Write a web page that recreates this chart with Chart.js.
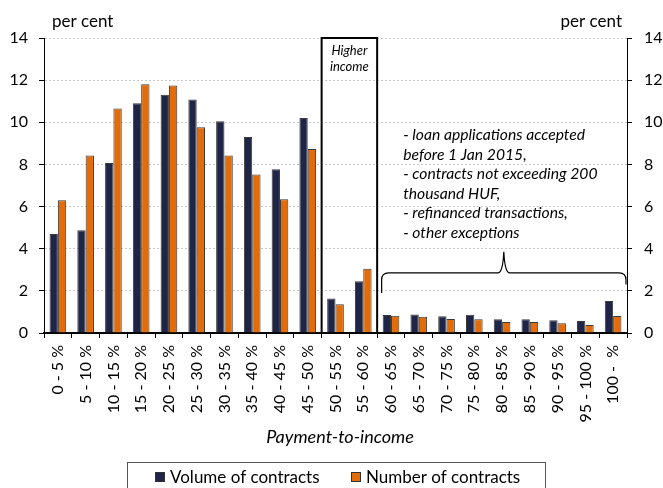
<!DOCTYPE html>
<html>
<head>
<meta charset="utf-8">
<script src="https://cdn.jsdelivr.net/npm/chart.js@4.4.1/dist/chart.umd.min.js"></script>
<style>
  html, body { margin: 0; padding: 0; background: #fff; }
  #wrap { width: 663px; height: 488px; }
</style>
</head>
<body>
<div id="wrap"><canvas id="c" width="663" height="488"></canvas></div>
<script>
const categories = ['0 - 5 %','5 - 10 %','10 - 15 %','15 - 20 %','20 - 25 %','25 - 30 %','30 - 35 %','35 - 40 %','40 - 45 %','45 - 50 %','50 - 55 %','55 - 60 %','60 - 65 %','65 - 70 %','70 - 75 %','75 - 80 %','80 - 85 %','85 - 90 %','90 - 95 %','95 - 100 %','100 -  %'];
const volumeOfContracts = [4.7, 4.88, 8.07, 10.9, 11.31, 11.08, 10.05, 9.3, 7.77, 10.2, 1.64, 2.46, 0.85, 0.88, 0.8, 0.87, 0.65, 0.65, 0.6, 0.57, 1.52];
const numberOfContracts = [6.3, 8.42, 10.65, 11.8, 11.74, 9.76, 8.42, 7.52, 6.35, 8.73, 1.37, 3.05, 0.82, 0.77, 0.66, 0.65, 0.52, 0.52, 0.46, 0.38, 0.81];
const yTicks = [0, 2, 4, 6, 8, 10, 12, 14];
const seriesNames = ['Volume of contracts', 'Number of contracts'];
const unitLabel = 'per cent';
const xTitle = 'Payment-to-income';
const boxLabel = ['Higher', 'income'];
const noteLines = ['- loan applications accepted', 'before 1 Jan 2015,', '- contracts not exceeding 200', 'thousand HUF,', '- refinanced transactions,', '- other exceptions'];

const NAVY = '#1f2547';
const ORANGE = '#e36c0a';
const FONT = 'Lato, "Open Sans", sans-serif';

const overlay = {
  id: 'overlay',
  afterDraw(chart) {
    const ctx = chart.ctx;
    const xs = chart.scales.x, ys = chart.scales.y;
    const ca = chart.chartArea;
    const cw = xs.width / categories.length;
    ctx.save();
    ctx.fillStyle = '#000';
    // unit labels
    ctx.font = '17px ' + FONT;
    ctx.textBaseline = 'middle';
    ctx.textAlign = 'left';
    ctx.fillText(unitLabel, 52, 22);
    ctx.textAlign = 'right';
    ctx.fillText(unitLabel, 622, 22);

    // Higher income box (categories 10-11)
    const bx1 = xs.getPixelForValue(10) - cw / 2;
    const bx2 = xs.getPixelForValue(11) + cw / 2;
    const by1 = ca.top;
    const by2 = ys.getPixelForValue(0);
    ctx.strokeStyle = '#000';
    ctx.lineWidth = 2;
    ctx.strokeRect(bx1, by1, bx2 - bx1, by2 - by1);
    ctx.font = 'italic 13px ' + FONT;
    ctx.textAlign = 'center';
    ctx.fillText(boxLabel[0], (bx1 + bx2) / 2, 51);
    ctx.fillText(boxLabel[1], (bx1 + bx2) / 2, 67);

    // brace over categories 12-20
    const xL = xs.getPixelForValue(12) - cw / 2 + 4.5;
    const xR = ca.right - 1;
    const xM = (xL + xR) / 2;
    const yH = ys.getPixelForValue(2.85);
    const yLeftEnd = ys.getPixelForValue(1.9);
    const yRightEnd = ys.getPixelForValue(2.3);
    const yPeak = ys.getPixelForValue(3.85);
    const r = 7;
    ctx.lineWidth = 1.2;
    ctx.strokeStyle = '#000';
    ctx.beginPath();
    ctx.moveTo(xL, yLeftEnd);
    ctx.lineTo(xL, yH + r);
    ctx.quadraticCurveTo(xL, yH, xL + r, yH);
    ctx.lineTo(xM - 6, yH);
    ctx.quadraticCurveTo(xM - 1, yH, xM, yPeak);
    ctx.quadraticCurveTo(xM + 1, yH, xM + 6, yH);
    ctx.lineTo(xR - r, yH);
    ctx.quadraticCurveTo(xR, yH, xR, yH + r);
    ctx.lineTo(xR, yRightEnd);
    ctx.stroke();

    // note text
    ctx.font = 'italic 15.7px ' + FONT;
    ctx.textAlign = 'left';
    const nx = xs.getPixelForValue(12) - cw / 2 + 26;
    const ny = ys.getPixelForValue(9.4);
    noteLines.forEach((t, i) => ctx.fillText(t, nx, ny + i * 19.6));

    // x title
    ctx.font = 'italic 18px ' + FONT;
    ctx.textAlign = 'center';
    ctx.fillText(xTitle, 340, 437);

    // legend
    ctx.lineWidth = 1;
    ctx.strokeStyle = '#555';
    ctx.strokeRect(127.5, 462.5, 418, 40);
    ctx.font = '17px ' + FONT;
    ctx.textAlign = 'left';
    const items = [{x: 155}, {x: 351}];
    chart.data.datasets.forEach((ds, i) => {
      const lx = items[i].x;
      ctx.fillStyle = ds.backgroundColor;
      ctx.fillRect(lx, 472, 10, 10);
      ctx.strokeStyle = '#333';
      ctx.strokeRect(lx + 0.5, 472.5, 9, 9);
      ctx.fillStyle = '#000';
      ctx.fillText(ds.label, lx + 15, 478);
    });
    ctx.restore();
  }
};

new Chart(document.getElementById('c'), {
  type: 'bar',
  data: {
    labels: categories,
    datasets: [
      { label: seriesNames[0], data: volumeOfContracts, backgroundColor: NAVY, borderColor: '#3a3a3a', borderWidth: 1, yAxisID: 'y' },
      { label: seriesNames[1], data: numberOfContracts, backgroundColor: ORANGE, borderColor: '#3a3a3a', borderWidth: 1, yAxisID: 'y' }
    ]
  },
  options: {
    responsive: false,
    animation: false,
    devicePixelRatio: 1,
    layout: { padding: { top: 38, left: 0, right: 0, bottom: 0 } },
    datasets: { bar: { categoryPercentage: 0.6, barPercentage: 1.0 } },
    plugins: { legend: { display: false }, tooltip: { enabled: false }, title: { display: false } },
    scales: {
      x: {
        type: 'category',
        offset: true,
        afterFit(s) { s.height = 155; },
        grid: { display: true, drawOnChartArea: false, drawTicks: true, tickLength: 5, tickColor: '#000', offset: true },
        border: { display: true, color: '#000', width: 2 },
        ticks: { autoSkip: false, minRotation: 90, maxRotation: 90, padding: 7, color: '#000', font: { family: FONT, size: 16 } }
      },
      y: {
        position: 'left',
        min: 0, max: 14,
        afterFit(s) { s.width = 44; },
        afterBuildTicks(s) { s.ticks = yTicks.map(v => ({ value: v })); },
        grid: { color: '#c8c8c8', lineWidth: 1, tickColor: '#000', tickLength: 5, drawTicks: true },
        border: { display: true, color: '#000', width: 1, dash: [2, 2] },
        ticks: { padding: 11, color: '#000', font: { family: FONT, size: 16 } }
      },
      y2: {
        position: 'right',
        min: 0, max: 14,
        afterFit(s) { s.width = 36; },
        afterBuildTicks(s) { s.ticks = yTicks.map(v => ({ value: v })); },
        grid: { drawOnChartArea: false, tickColor: '#000', tickLength: 5, drawTicks: true },
        border: { display: true, color: '#000', width: 1 },
        ticks: { padding: 12, color: '#000', font: { family: FONT, size: 16 } }
      }
    }
  },
  plugins: [overlay]
});
</script>
</body>
</html>
